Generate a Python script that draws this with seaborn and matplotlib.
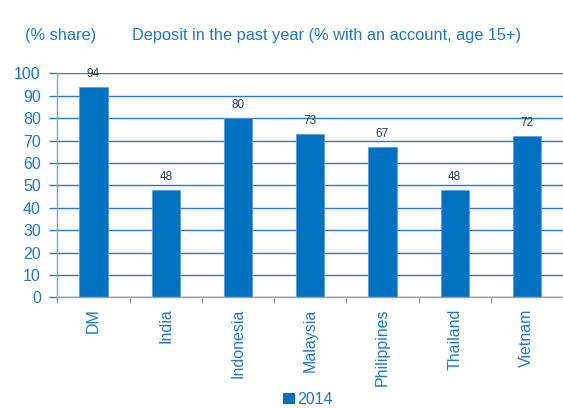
import matplotlib
matplotlib.use("Agg")
import matplotlib.pyplot as plt
import seaborn as sns
import pandas as pd
from matplotlib.patches import Patch

# Share of account holders who made a deposit in the past year, 2014
countries = ["DM", "India", "Indonesia", "Malaysia", "Philippines", "Thailand", "Vietnam"]
deposit_share = [94, 48, 80, 73, 67, 48, 72]
year_label = "2014"
y_ticks = [0, 10, 20, 30, 40, 50, 60, 70, 80, 90, 100]

BAR = "#0070C0"
TEXT_BLUE = "#1F78C8"
GRID = "#2A7BC6"
VALUE_NAVY = "#253B5E"

sns.set_theme(style="white")
plt.rcParams["font.family"] = ["Liberation Sans", "DejaVu Sans"]

df = pd.DataFrame({"country": countries, "share": deposit_share, "year": year_label})

fig = plt.figure(figsize=(5.63, 4.08), dpi=100)
ax = fig.add_axes([0.102, 0.271, 0.898, 0.549])

sns.barplot(data=df, x="country", y="share", hue="year", palette=[BAR],
            dodge=False, width=0.39, saturation=1, legend=False, ax=ax,
            edgecolor="#5E9FD8", linewidth=0.6)

ax.set_xlim(-0.5, len(countries) - 0.5)
ax.set_ylim(0, 100)
ax.set_yticks(y_ticks)
ax.set_xlabel("")
ax.set_ylabel("")

# horizontal gridlines behind the bars
ax.set_axisbelow(True)
ax.yaxis.grid(True, color=GRID, linewidth=1.0)
ax.xaxis.grid(False)

for side in ["top", "right"]:
    ax.spines[side].set_visible(False)
ax.spines["left"].set_color("#6FA8DC")
ax.spines["left"].set_linewidth(1.0)
ax.spines["bottom"].set_color("#A0A0A0")
ax.spines["bottom"].set_linewidth(1.0)

# category separators on the x axis
ax.set_xticks(range(len(countries)))
ax.set_xticklabels(countries, rotation=90, color=TEXT_BLUE, fontsize=11.5)
ax.set_xticks([i - 0.5 for i in range(len(countries) + 1)], minor=True)
ax.tick_params(axis="x", which="major", length=0, pad=8)
ax.tick_params(axis="x", which="minor", length=4, color="#A0A0A0", width=1.0, direction="out")
ax.tick_params(axis="y", length=5.5, color=GRID, width=1.0, direction="out",
               labelcolor=TEXT_BLUE, labelsize=11.5, pad=6.5)
ax.yaxis.set_tick_params(left=True)
ax.xaxis.set_tick_params(which="minor", bottom=True)

# value labels above each bar
for i, v in enumerate(deposit_share):
    ax.annotate(f"{v}", xy=(i, v), xytext=(0, 9.5), textcoords="offset points",
                ha="center", va="center", fontsize=8.5, color=VALUE_NAVY)

fig.text(0.044, 0.914, "(% share)", color=TEXT_BLUE, fontsize=11.8, ha="left", va="center")
fig.text(0.234, 0.914, "Deposit in the past year (% with an account, age 15+)",
         color=TEXT_BLUE, fontsize=11.8, ha="left", va="center")

handle = Patch(facecolor=BAR, edgecolor="none")
fig.legend([handle], [year_label], loc="center", bbox_to_anchor=(0.547, 0.02),
           frameon=False, fontsize=11.5, handlelength=0.7, handleheight=0.7,
           handletextpad=0.15, labelcolor=TEXT_BLUE, borderpad=0)

fig.savefig("out.png", dpi=100)
